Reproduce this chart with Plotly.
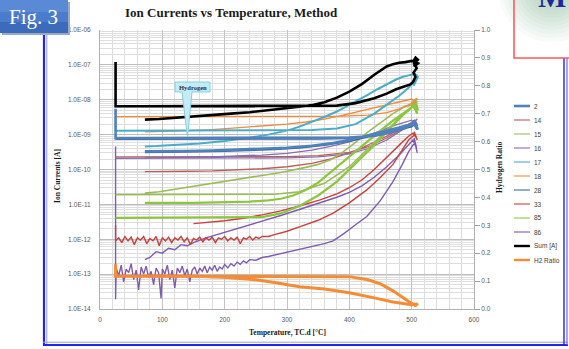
import plotly.graph_objects as go

# ---------------- measured data: (temperature degC, ion current A) ----------------
# heating branch -> isothermal hold near 500 degC -> cooling branch
m2 = [(25, 5.5e-9), (25, 2e-9), (25, 7.9e-10), (60, 7.9e-10), (100, 7.9e-10), (150, 7.9e-10),
      (200, 7.9e-10), (250, 7.9e-10), (300, 7.9e-10), (350, 7.9e-10), (400, 8.2e-10), (430, 9e-10),
      (455, 1.05e-9), (475, 1.3e-9), (490, 1.6e-9), (500, 1.9e-9), (505, 2.4e-9), (509, 1.7e-9),
      (504, 2.6e-9), (508, 1.5e-9), (503, 2.2e-9), (510, 1.4e-9), (505, 2.3e-9), (495, 1.9e-9),
      (480, 1.6e-9), (460, 1.3e-9), (440, 1.05e-9), (420, 8.5e-10), (400, 7e-10), (370, 5.6e-10),
      (340, 4.8e-10), (300, 4.2e-10), (260, 3.9e-10), (220, 3.7e-10), (180, 3.5e-10), (140, 3.4e-10),
      (100, 3.3e-10), (72, 3.3e-10)]

m14 = [(25, 2.3e-10), (100, 2.3e-10), (200, 2.3e-10), (300, 2.35e-10), (350, 2.5e-10), (400, 3.1e-10),
       (430, 4.5e-10), (460, 8e-10), (480, 1.3e-9), (495, 1.9e-9), (505, 2.5e-9), (509, 2e-9),
       (504, 2.6e-9), (500, 2.2e-9), (490, 1.8e-9), (475, 1.3e-9), (460, 9e-10), (440, 6e-10),
       (420, 4.2e-10), (400, 3e-10), (370, 2e-10), (340, 1.5e-10), (300, 1.2e-10), (260, 1.05e-10),
       (220, 9.6e-11), (180, 9.1e-11), (140, 8.9e-11), (100, 8.7e-11), (72, 8.7e-11)]

m15 = [(25, 1.9e-11), (100, 1.9e-11), (200, 1.9e-11), (280, 1.95e-11), (320, 2.3e-11), (360, 4e-11),
       (400, 1.2e-10), (430, 4e-10), (460, 1.4e-9), (480, 3e-9), (495, 5e-9), (505, 7e-9), (509, 9e-9),
       (504, 6e-9), (500, 8e-9), (508, 1.1e-8), (503, 7e-9), (490, 6.5e-9), (470, 4e-9), (450, 2.2e-9),
       (430, 1.2e-9), (410, 6e-10), (390, 3.2e-10), (370, 1.9e-10), (350, 1.4e-10), (330, 1.15e-10),
       (310, 9.5e-11), (290, 8.2e-11), (270, 7.2e-11), (250, 6.3e-11), (230, 5.6e-11), (210, 5e-11),
       (180, 4.1e-11), (150, 3.3e-11), (120, 2.7e-11), (95, 2.3e-11), (72, 2.1e-11)]

m16 = [(25, 2.1e-10), (100, 2.1e-10), (200, 2.1e-10), (300, 2.15e-10), (350, 2.3e-10), (400, 2.8e-10),
       (430, 4e-10), (460, 7e-10), (480, 1.2e-9), (495, 1.8e-9), (505, 2.4e-9), (509, 2.8e-9),
       (504, 2.2e-9), (500, 2.6e-9), (490, 2.3e-9), (475, 1.9e-9), (460, 1.5e-9), (440, 1.1e-9),
       (420, 8e-10), (400, 6.2e-10), (370, 4.6e-10), (340, 3.6e-10), (300, 2.9e-10), (260, 2.6e-10),
       (220, 2.4e-10), (180, 2.3e-10), (140, 2.25e-10), (100, 2.2e-10), (72, 2.2e-10)]

m17 = [(25, 1.3e-9), (60, 1.3e-9), (100, 1.3e-9), (150, 1.3e-9), (200, 1.3e-9), (250, 1.3e-9),
       (300, 1.3e-9), (340, 1.35e-9), (380, 1.5e-9), (410, 2e-9), (440, 4e-9), (460, 7e-9),
       (480, 1.3e-8), (495, 2.2e-8), (505, 3.5e-8), (509, 5e-8), (504, 3e-8), (508, 5.5e-8),
       (503, 2.5e-8), (510, 4.5e-8), (505, 5.5e-8), (495, 5e-8), (485, 4.5e-8), (475, 3.8e-8),
       (460, 2.8e-8), (445, 2e-8), (430, 1.4e-8), (415, 1e-8), (400, 7e-9), (380, 4.6e-9),
       (360, 3.2e-9), (340, 2.3e-9), (320, 1.7e-9), (300, 1.3e-9), (270, 1e-9), (240, 8.2e-10),
       (200, 6.6e-10), (160, 5.6e-10), (120, 5e-10), (90, 4.7e-10), (72, 4.6e-10)]

m18 = [(25, 3.3e-9), (100, 3.3e-9), (200, 3.3e-9), (300, 3.3e-9), (380, 3.35e-9), (430, 3.6e-9),
       (460, 4.3e-9), (480, 5.5e-9), (495, 7e-9), (505, 8.5e-9), (509, 1.1e-8), (504, 9e-9),
       (500, 1.05e-8), (490, 9.5e-9), (470, 8e-9), (450, 6.5e-9), (420, 4.8e-9), (390, 3.6e-9),
       (360, 2.8e-9), (330, 2.3e-9), (300, 2e-9), (260, 1.75e-9), (220, 1.55e-9), (180, 1.4e-9),
       (140, 1.3e-9), (100, 1.22e-9), (72, 1.2e-9)]

m28 = [(25, 7.5e-10), (100, 7.5e-10), (200, 7.5e-10), (300, 7.5e-10), (350, 7.6e-10), (400, 7.9e-10),
       (440, 9e-10), (470, 1.2e-9), (490, 1.5e-9), (505, 1.9e-9), (509, 1.4e-9), (504, 2.1e-9),
       (500, 1.7e-9), (480, 1.4e-9), (460, 1.15e-9), (430, 8.5e-10), (400, 6.5e-10), (360, 5e-10),
       (320, 4.2e-10), (280, 3.8e-10), (240, 3.5e-10), (200, 3.35e-10), (160, 3.25e-10),
       (120, 3.2e-10), (90, 3.15e-10), (72, 3.1e-10)]

m33 = [(25, 2.5e-12), (25, 0.9e-12), (30, 1.1e-12), (35, 0.8e-12), (40, 1.2e-12), (45, 0.9e-12),
       (50, 1.15e-12), (55, 0.7e-12), (60, 1.1e-12), (65, 0.95e-12), (70, 1.2e-12), (75, 0.75e-12),
       (80, 1.05e-12), (85, 0.9e-12), (90, 1.2e-12), (95, 0.65e-12), (100, 1.1e-12), (105, 0.9e-12),
       (110, 1.15e-12), (115, 0.8e-12), (120, 1.1e-12), (125, 0.95e-12), (130, 1.2e-12), (135, 0.85e-12),
       (140, 1.1e-12), (145, 0.7e-12), (150, 1.05e-12), (155, 0.95e-12), (160, 1.15e-12), (165, 0.85e-12),
       (170, 1.1e-12), (175, 0.95e-12), (180, 1.15e-12), (185, 0.8e-12), (190, 1.1e-12), (195, 1.0e-12),
       (200, 1.2e-12), (205, 0.9e-12), (210, 1.1e-12), (215, 0.95e-12), (220, 1.15e-12), (225, 0.75e-12),
       (230, 1.1e-12), (235, 1.0e-12), (240, 1.2e-12), (245, 0.95e-12), (250, 1.15e-12), (255, 1.05e-12),
       (260, 1.2e-12), (270, 1.2e-12), (280, 1.35e-12), (290, 1.5e-12), (300, 1.7e-12), (321, 2.3e-12),
       (350, 3.5e-12), (374, 5.6e-12), (400, 1.1e-11), (428, 2.6e-11), (450, 6e-11), (470, 1.4e-10),
       (485, 3.5e-10), (495, 7e-10), (505, 1e-9), (509, 7e-10), (504, 1.2e-9), (508, 8e-10),
       (502, 1.1e-9), (495, 9e-10), (480, 5e-10), (460, 2.2e-10), (440, 1e-10), (420, 5e-11),
       (400, 3e-11), (380, 2e-11), (353, 1.35e-11), (320, 9e-12), (290, 6.5e-12), (260, 5e-12),
       (230, 4e-12), (200, 3.4e-12), (170, 3e-12), (150, 2.8e-12)]

m85 = [(25, 4.1e-12), (100, 4.1e-12), (200, 4.1e-12), (260, 4.3e-12), (290, 5.5e-12), (320, 9e-12),
       (350, 1.8e-11), (380, 4.5e-11), (410, 1.5e-10), (440, 5e-10), (465, 1.5e-9), (485, 3.5e-9),
       (500, 6e-9), (507, 8e-9), (510, 5e-9), (505, 7e-9), (509, 4e-9), (503, 6.5e-9), (500, 6e-9),
       (490, 4.5e-9), (470, 2.5e-9), (450, 1.3e-9), (430, 6.5e-10), (410, 3.2e-10), (390, 1.6e-10),
       (370, 8e-11), (350, 4.2e-11), (330, 2.6e-11), (310, 1.8e-11), (290, 1.45e-11), (270, 1.3e-11),
       (240, 1.2e-11), (210, 1.15e-11), (180, 1.12e-11), (150, 1.1e-11), (120, 1.1e-11), (95, 1.1e-11),
       (72, 1.1e-11)]

m86 = [(25, 4.6e-10), (25, 1.9e-14), (26, 1.5e-13), (30, 0.9e-13), (34, 1.8e-13), (38, 0.6e-13),
       (42, 1.4e-13), (46, 1.1e-13), (50, 2.0e-13), (54, 0.7e-13), (58, 1.3e-13), (62, 0.35e-13),
       (66, 1.6e-13), (70, 1.0e-13), (74, 1.7e-13), (78, 0.8e-13), (82, 1.2e-13), (86, 0.5e-13),
       (90, 1.5e-13), (94, 1.1e-13), (98, 0.2e-13), (100, 1.4e-13), (104, 1.0e-13), (108, 1.8e-13),
       (112, 0.7e-13), (116, 1.3e-13), (120, 0.4e-13), (124, 1.5e-13), (128, 1.1e-13), (132, 1.7e-13),
       (136, 0.9e-13), (140, 1.4e-13), (144, 0.6e-13), (148, 1.3e-13), (152, 1.6e-13), (156, 1.0e-13),
       (160, 1.5e-13), (164, 1.2e-13), (168, 1.7e-13), (172, 1.1e-13), (176, 1.6e-13), (180, 1.3e-13),
       (184, 1.8e-13), (188, 1.2e-13), (192, 1.6e-13), (196, 1.4e-13), (200, 1.9e-13), (205, 1.5e-13),
       (210, 2.0e-13), (215, 1.7e-13), (220, 2.2e-13), (225, 1.9e-13), (230, 2.4e-13), (235, 2.1e-13),
       (240, 2.6e-13), (250, 2.5e-13), (260, 3.0e-13), (270, 3.2e-13), (280, 3.5e-13), (300, 4.2e-13),
       (320, 5.2e-13), (340, 6.2e-13), (360, 7.5e-13), (374, 9e-13), (390, 1.4e-12), (410, 2.6e-12),
       (428, 4.5e-12), (450, 1.3e-11), (470, 4.5e-11), (485, 1.4e-10), (495, 3.2e-10), (505, 6e-10),
       (509, 3e-10), (504, 8e-10), (508, 4e-10), (502, 7e-10), (495, 5e-10), (480, 2.6e-10),
       (460, 1.2e-10), (440, 6e-11), (420, 3.4e-11), (400, 2.2e-11), (380, 1.6e-11), (353, 1.1e-11),
       (320, 7e-12), (290, 4.8e-12), (260, 3.3e-12), (230, 2.3e-12), (213, 1.9e-12), (190, 1.4e-12),
       (170, 1.1e-12), (150, 8e-13), (140, 6.5e-13), (130, 7e-13), (120, 5e-13), (110, 5.5e-13),
       (100, 4e-13), (90, 4.4e-13), (80, 3e-13), (72, 2.6e-13)]

total = [(25, 1.2e-7), (25, 2e-8), (25, 6.5e-9), (60, 6.5e-9), (100, 6.5e-9), (150, 6.5e-9),
         (200, 6.5e-9), (250, 6.5e-9), (300, 6.5e-9), (350, 6.6e-9), (380, 6.8e-9), (410, 8e-9),
         (440, 1.1e-8), (460, 1.5e-8), (475, 2.0e-8), (488, 2.4e-8), (497, 2.7e-8), (502, 3.2e-8),
         (506, 4.5e-8), (503, 6e-8), (508, 8e-8), (504, 1.1e-7), (510, 1.4e-7), (505, 1.7e-7),
         (511, 1.3e-7), (506, 1.6e-7), (502, 1.2e-7), (509, 1.5e-7), (504, 9e-8), (510, 1.1e-7),
         (500, 1.3e-7), (496, 1.25e-7), (490, 1.2e-7), (480, 1.15e-7), (470, 1.05e-7), (460, 9e-8),
         (450, 7e-8), (440, 5.2e-8), (430, 3.8e-8), (420, 2.8e-8), (400, 1.7e-8), (380, 1.15e-8),
         (360, 8.5e-9), (340, 7e-9), (320, 6.3e-9), (300, 5.7e-9), (270, 5.0e-9), (240, 4.4e-9),
         (210, 4.0e-9), (180, 3.6e-9), (150, 3.3e-9), (120, 3.0e-9), (95, 2.8e-9), (72, 2.7e-9)]

# hydrogen ratio (right axis)
h2_ratio = [(25, 0.16), (25, 0.117), (60, 0.117), (100, 0.117), (150, 0.117), (200, 0.117),
            (250, 0.117), (300, 0.117), (350, 0.117), (400, 0.116), (430, 0.105), (450, 0.09),
            (470, 0.065), (490, 0.035), (500, 0.02), (508, 0.015), (504, 0.01), (510, 0.02),
            (505, 0.012), (509, 0.018), (500, 0.015), (470, 0.025), (440, 0.04), (400, 0.058),
            (360, 0.072), (320, 0.08), (280, 0.095), (250, 0.105), (204, 0.113), (150, 0.117),
            (100, 0.117), (72, 0.117)]

# ---------------- axis labels ----------------
x_ticks = [0, 100, 200, 300, 400, 500, 600]
y_tick_vals = [1e-14, 1e-13, 1e-12, 1e-11, 1e-10, 1e-9, 1e-8, 1e-7, 1e-6]
y_tick_text = ["1.0E-14", "1.0E-13", "1.0E-12", "1.0E-11", "1.0E-10",
               "1.0E-09", "1.0E-08", "1.0E-07", "1.0E-06"]
legend_names = ["2", "14", "15", "16", "17", "18", "28", "33", "85", "86", "Sum [A]", "H2 Ratio"]

# name, data, colour, width  (drawing order: back to front)
series = [
    ("86", m86, "#7f5bb3", 1.4),
    ("33", m33, "#c8413e", 1.4),
    ("14", m14, "#b8605d", 1.3),
    ("16", m16, "#8a6cb0", 1.3),
    ("15", m15, "#9bbb59", 1.6),
    ("85", m85, "#8cc63f", 2.2),
    ("18", m18, "#f08a3c", 1.3),
    ("17", m17, "#4bacc6", 2.0),
    ("28", m28, "#3e6b9e", 1.8),
    ("2", m2, "#4f81bd", 2.6),
    ("Sum [A]", total, "#000000", 2.6),
]
ratio_color = "#f68b33"

fig = go.Figure()
for name, pts, col, w in series:
    fig.add_trace(go.Scatter(x=[p[0] for p in pts], y=[p[1] for p in pts], mode="lines",
                             name=name, line=dict(color=col, width=w), showlegend=False))
fig.add_trace(go.Scatter(x=[p[0] for p in h2_ratio], y=[p[1] for p in h2_ratio], mode="lines",
                         name="H2 Ratio", yaxis="y2", line=dict(color=ratio_color, width=3),
                         showlegend=False))

# ---------------- page geometry helpers (pixels -> paper) ----------------
W, H = 569, 349
ML, MR, MT, MB = 100, 95, 30, 40
PW, PH = W - ML - MR, H - MT - MB


def px(x):
    return (x - ML) / PW


def py(y):
    return (H - MB - y) / PH


shapes = []
annotations = []

# slide frame (double blue rule)
for xx, col, w in [(44, "#2323f0", 2.2), (46.8, "#9a9aff", 1)]:
    shapes.append(dict(type="line", xref="paper", yref="paper", x0=px(xx), x1=px(xx),
                       y0=py(33), y1=py(345), line=dict(color=col, width=w)))
for yy, col, w in [(345, "#2323f0", 2.2), (342.2, "#9a9aff", 1)]:
    shapes.append(dict(type="line", xref="paper", yref="paper", x0=px(43), x1=px(568),
                       y0=py(yy), y1=py(yy), line=dict(color=col, width=w)))
for xx, col, w in [(564, "#2323f0", 1.4), (567, "#6a6aff", 1.2)]:
    shapes.append(dict(type="line", xref="paper", yref="paper", x0=px(xx), x1=px(xx),
                       y0=py(58), y1=py(345), line=dict(color=col, width=w)))

# corner box with soft green glow (many faint discs build a smooth fade)
for r in range(54, 2, -4):
    shapes.append(dict(type="circle", xref="paper", yref="paper", x0=px(552 - r), x1=px(552 + r),
                       y0=py(-12 + r), y1=py(-12 - r), fillcolor="#2f8a55", opacity=0.035,
                       line=dict(width=0)))
shapes.append(dict(type="rect", xref="paper", yref="paper", x0=px(514), x1=px(575),
                   y0=py(58), y1=py(-5), line=dict(color="#ff5a5a", width=1.6)))
annotations.append(dict(text="<b>M</b>", xref="paper", yref="paper", x=px(536), y=py(15),
                        xanchor="left", yanchor="bottom", showarrow=False,
                        font=dict(family="Liberation Serif", size=30, color="#1c2a9a")))

# figure tag
shapes.append(dict(type="rect", xref="paper", yref="paper", x0=px(2), x1=px(70),
                   y0=py(35), y1=py(2), fillcolor="#9aa9c4", line=dict(width=0)))
for y0, y1, col in [(0, 12, "#5a8ad6"), (12, 22, "#4a7ccb"), (22, 33, "#3c6bbb")]:
    shapes.append(dict(type="rect", xref="paper", yref="paper", x0=px(0), x1=px(68),
                       y0=py(y1), y1=py(y0), fillcolor=col, line=dict(width=0)))
annotations.append(dict(text="Fig. 3", xref="paper", yref="paper", x=px(33), y=py(17),
                        xanchor="center", yanchor="middle", showarrow=False,
                        font=dict(family="Liberation Serif", size=21, color="#ffffff")))

# "Hydrogen" callout
path = ("M {a},{t} L {b},{t} L {b},{m} L {c},{m} L {d},{e} L {f},{m} L {a},{m} Z").format(
    a=px(175), b=px(210), t=py(82), m=py(92), c=px(192), d=px(187.5), e=py(137), f=px(182))
shapes.append(dict(type="path", xref="paper", yref="paper", path=path,
                   fillcolor="#c4ecf5", line=dict(color="#86cfe0", width=1)))
annotations.append(dict(text="<b>Hydrogen</b>", xref="paper", yref="paper", x=px(192.5), y=py(87),
                        xanchor="center", yanchor="middle", showarrow=False,
                        font=dict(family="Liberation Serif", size=6.5, color="#1f3050")))

# chart title and axis titles
annotations.append(dict(text="<b>Ion Currents vs Temperature, Method</b>", xref="paper", yref="paper",
                        x=px(231), y=py(12), xanchor="center", yanchor="middle", showarrow=False,
                        font=dict(family="Liberation Serif", size=13, color="#1a1a1a")))
annotations.append(dict(text="<b>Temperature, TC.d [°C]</b>", xref="paper", yref="paper",
                        x=px(287.5), y=py(332), xanchor="center", yanchor="middle", showarrow=False,
                        font=dict(family="Liberation Serif", size=7.5, color="#1a1a1a")))
annotations.append(dict(text="<b>Ion Currents [A]</b>", xref="paper", yref="paper",
                        x=px(57), y=py(176), xanchor="center", yanchor="middle", showarrow=False,
                        textangle=-90,
                        font=dict(family="Liberation Serif", size=7.5, color="#1a1a1a")))
annotations.append(dict(text="<b>Hydrogen Ratio</b>", xref="paper", yref="paper",
                        x=px(499), y=py(167), xanchor="center", yanchor="middle", showarrow=False,
                        textangle=-90,
                        font=dict(family="Liberation Serif", size=7.5, color="#1a1a1a")))

# legend
leg_style = {name: (col, 1.1) for name, _, col, _ in series}
leg_style["2"] = ("#4f81bd", 2.6)
leg_style["Sum [A]"] = ("#000000", 2.4)
leg_style["H2 Ratio"] = (ratio_color, 2.4)
for k, name in enumerate(legend_names):
    yy = 106 + 14 * k
    col, w = leg_style[name]
    shapes.append(dict(type="line", xref="paper", yref="paper", x0=px(514), x1=px(530),
                       y0=py(yy), y1=py(yy), line=dict(color=col, width=w)))
    annotations.append(dict(text=name, xref="paper", yref="paper", x=px(531.5), y=py(yy),
                            xanchor="left", yanchor="middle", showarrow=False,
                            font=dict(family="Liberation Sans", size=6.5, color="#404040")))

tick_font = dict(family="Liberation Sans", size=6.5, color="#595959")
fig.update_layout(
    width=W, height=H,
    margin=dict(l=ML, r=MR, t=MT, b=MB, pad=0),
    paper_bgcolor="#ffffff", plot_bgcolor="#ffffff",
    showlegend=False,
    xaxis=dict(range=[0, 600], tickvals=x_ticks, ticks="", tickfont=tick_font,
               ticklabelstandoff=4,
               showgrid=True, gridcolor="#c4c4c4", gridwidth=1,
               minor=dict(dtick=20, showgrid=True, gridcolor="#dcdcdc", gridwidth=1),
               showline=True, linecolor="#b0b0b0", linewidth=1, zeroline=False),
    yaxis=dict(type="log", range=[-14, -6], tickvals=y_tick_vals, ticktext=y_tick_text,
               ticks="", tickfont=tick_font, ticklabelstandoff=7,
               showgrid=True, gridcolor="#bdbdbd", gridwidth=1,
               minor=dict(dtick="D1", showgrid=True, gridcolor="#dedede", gridwidth=1),
               showline=True, linecolor="#b0b0b0", linewidth=1, zeroline=False),
    yaxis2=dict(overlaying="y", side="right", range=[0, 1], dtick=0.1, tickformat=".1f",
                ticks="outside", ticklen=5, tickcolor="#a0a0a0", tickfont=tick_font,
                showgrid=False, showline=True, linecolor="#b0b0b0", zeroline=False),
    shapes=shapes,
    annotations=annotations,
)

fig.write_html("out.html")
